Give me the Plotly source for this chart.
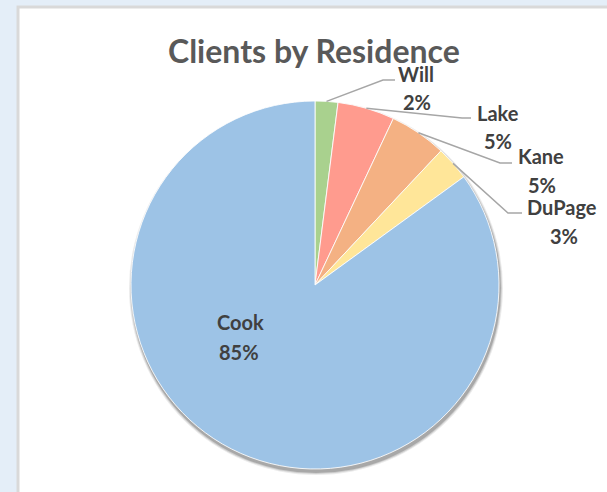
import plotly.graph_objects as go
import math

# ---- data ----
counties = ["Will", "Lake", "Kane", "DuPage", "Cook"]
shares = [2, 5, 5, 3, 85]
colors = ["#A9D18E", "#FF9B8E", "#F4B183", "#FFE699", "#9DC3E6"]
title_text = "Clients by Residence"

W, H = 607, 492
BG = "#E4EEF8"
def px(x):
    return x / W
def py(y):
    return 1 - y / H

# pie geometry (pixels)
cx, cy, R = 315, 285, 184

fig = go.Figure()
fig.add_trace(go.Pie(
    labels=counties, values=shares, sort=False, direction="clockwise", rotation=0,
    marker=dict(colors=colors, line=dict(color="rgba(255,255,255,0.85)", width=1)),
    textinfo="none", hoverinfo="label+percent", showlegend=False,
    domain=dict(x=[px(cx - R), px(cx + R)], y=[py(cy + R), py(cy - R)]),
))

shapes = []
# white chart panel
shapes.append(dict(type="rect", xref="paper", yref="paper", layer="below",
                   x0=px(18), x1=px(640), y0=py(520), y1=py(7),
                   fillcolor="white", line=dict(color="#D9D9D9", width=3)))
# soft shadow behind pie
for i, op in enumerate([0.08, 0.12, 0.18]):
    rr = R + 3 - i
    shapes.append(dict(type="circle", xref="paper", yref="paper", layer="below",
                       x0=px(cx + 1 - rr), x1=px(cx + 1 + rr),
                       y0=py(cy + 3 + rr), y1=py(cy + 3 - rr),
                       fillcolor=f"rgba(0,0,0,{op})", line=dict(width=0)))

# label layout (pixel positions of name / percent text and leader elbows)
name_pos = {"Will": (416, 73), "Lake": (498, 112), "Kane": (541, 155), "DuPage": (562, 206), "Cook": (240, 321)}
pct_pos = {"Will": (417, 101), "Lake": (498, 140), "Kane": (542, 184), "DuPage": (564, 235), "Cook": (239, 351)}
elbows = {"Will": [(383, 80), (395, 80)], "Lake": [(462, 118), (471, 118)],
          "Kane": [(500, 163), (512, 163)], "DuPage": [(508, 213), (522, 213)]}

total = sum(shares)
annotations = []
cum = 0
for name, v in zip(counties, shares):
    mid = (cum + v / 2) / total
    cum += v
    ang = 2 * math.pi * mid
    ex, ey = cx + R * math.sin(ang), cy - R * math.cos(ang)
    if name in elbows:
        pts = [(ex, ey)] + elbows[name]
        path = "M " + " L ".join(f"{px(x)},{py(y)}" for x, y in pts)
        shapes.append(dict(type="path", xref="paper", yref="paper", path=path,
                           line=dict(color="#A6A6A6", width=1.5)))
    pct = f"{v / total * 100:.0f}%"
    for txt, (x, y) in [(name, name_pos[name]), (pct, pct_pos[name])]:
        annotations.append(dict(text=f"<b>{txt}</b>", x=px(x), y=py(y + 1), xref="paper", yref="paper",
                                showarrow=False, xanchor="center", yanchor="middle",
                                font=dict(family="Lato", size=20, color="#404040")))

annotations.append(dict(text=f"<b>{title_text}</b>", x=px(314), y=py(51), xref="paper", yref="paper",
                        showarrow=False, xanchor="center", yanchor="middle",
                        font=dict(family="Lato", size=32, color="#595959")))

fig.update_layout(
    width=W, height=H, margin=dict(l=0, r=0, t=0, b=0),
    paper_bgcolor=BG, plot_bgcolor=BG,
    shapes=shapes, annotations=annotations,
)
fig.write_html("out.html", config={"displayModeBar": False},
               post_script=f"document.body.style.margin='0';document.body.style.background='{BG}';document.body.style.overflow='hidden';")
